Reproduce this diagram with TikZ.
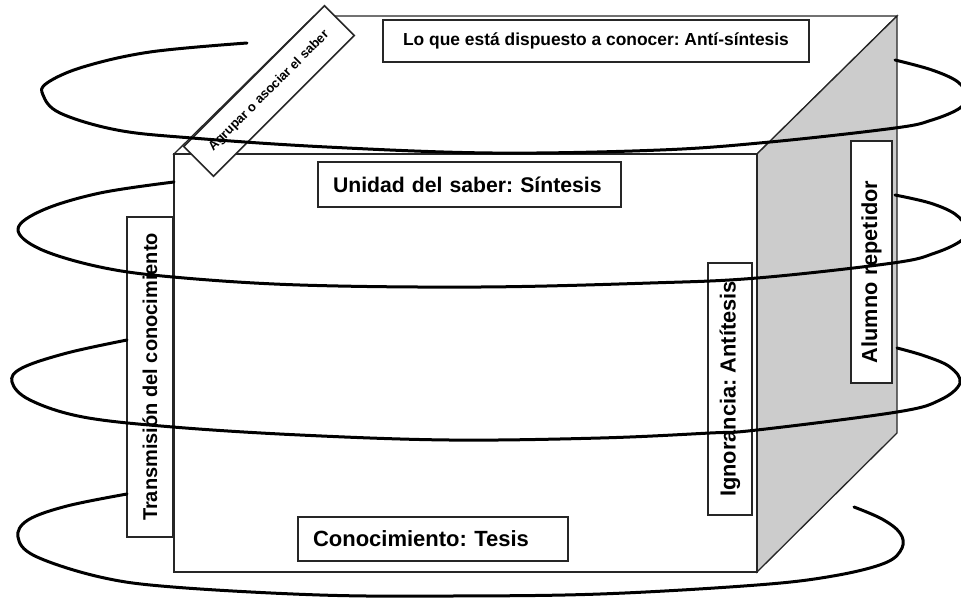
\documentclass[tikz,border=0pt]{standalone}
\usepackage{fontspec}
\setmainfont{Liberation Sans}
\frenchspacing
\begin{document}
\begin{tikzpicture}[x=1pt,y=-1pt,
  cubeline/.style={draw=black!85, line width=1.3pt, line join=miter},
  lbl/.style={draw=black!85, fill=white, line width=1.5pt, inner sep=0pt},
  spiral/.style={line width=3pt, line cap=round, line join=round}
]
\useasboundingbox (0,0) rectangle (961,598);
% cube corners
\coordinate (FTL) at (174,154);
\coordinate (FTR) at (757,154);
\coordinate (FBR) at (757,572);
\coordinate (FBL) at (174,572);
\coordinate (BTL) at (314,16);
\coordinate (BTR) at (897,16);
\coordinate (BBR) at (897,433);
% top face
\path[cubeline, fill=white] (FTL) -- (BTL) -- (BTR) -- (FTR) -- cycle;
% right face
\path[cubeline, fill=black!20] (FTR) -- (BTR) -- (BBR) -- (FBR) -- cycle;
% front face
\path[cubeline, fill=white] (FTL) rectangle (FBR);

% labels
\node[lbl, minimum width=426, minimum height=42,
      font={\bfseries\fontsize{17.4}{20}\selectfont}] (anti) at (596,41)
      {Lo que está dispuesto a conocer: Antí-síntesis};
\node[lbl, minimum height=45, text width=273, inner xsep=15, align=left,
      font={\bfseries\fontsize{21.2}{25}\selectfont}] (sint) at (469.5,184.5)
      {Unidad del saber: Síntesis};
\node[lbl, minimum height=44, text width=240, inner xsep=15, align=left,
      font={\bfseries\fontsize{22}{26}\selectfont}] (tesis) at (433,539)
      {Conocimiento: Tesis};
\node[lbl, rotate=90, minimum width=320, minimum height=46,
      font={\bfseries\fontsize{20}{24}\selectfont}] (trans) at (150,377)
      {Transmisión del conocimiento};
\node[lbl, rotate=90, minimum width=252, minimum height=44,
      font={\bfseries\fontsize{21.8}{25}\selectfont}] (ign) at (730,389)
      {Ignorancia: Antítesis};
\node[lbl, rotate=90, minimum height=41, text width=202, inner xsep=20, align=left,
      font={\bfseries\fontsize{21.7}{25}\selectfont}] (alum) at (871.5,262)
      {Alumno repetidor};
\node[lbl, rotate=45, minimum width=199, minimum height=42,
      font={\bfseries\fontsize{13}{15}\selectfont}] (agr) at (269,91)
      {Agrupar o asociar el saber};

% spiral loops
\draw[spiral] plot[smooth, tension=0.6] coordinates {
  (247,43) (150,52) (83,67) (47,83) (43,95) (60,113) (117,130) (192,138)
  (327,147) (493,153) (660,150) (770,142) (895,128) (932,120) (960,108)
  (966,96) (958,82) (932,70) (895,60)};
\draw[spiral] plot[smooth, tension=0.6] coordinates {
  (174,182) (100,193) (43,210) (18,229) (40,249) (100,267) (173,277)
  (300,285) (480,287) (650,283) (757,278) (893,263) (935,253) (962,240)
  (966,228) (955,214) (930,203) (895,195)};
\draw[spiral] plot[smooth, tension=0.6] coordinates {
  (127,340) (67,353) (22,368) (12,382) (30,400) (83,417) (173,427)
  (300,435) (450,440) (600,438) (710,433) (757,430) (897,412) (940,400)
  (960,383) (950,367) (925,356) (897,348)};
\draw[spiral] plot[smooth, tension=0.6] coordinates {
  (127,494) (67,506) (28,520) (18,537) (35,556) (100,577) (173,587)
  (320,595) (450,596) (600,594) (757,585) (833,576) (885,563) (902,548)
  (900,533) (882,519) (854,507)};
\end{tikzpicture}
\end{document}
